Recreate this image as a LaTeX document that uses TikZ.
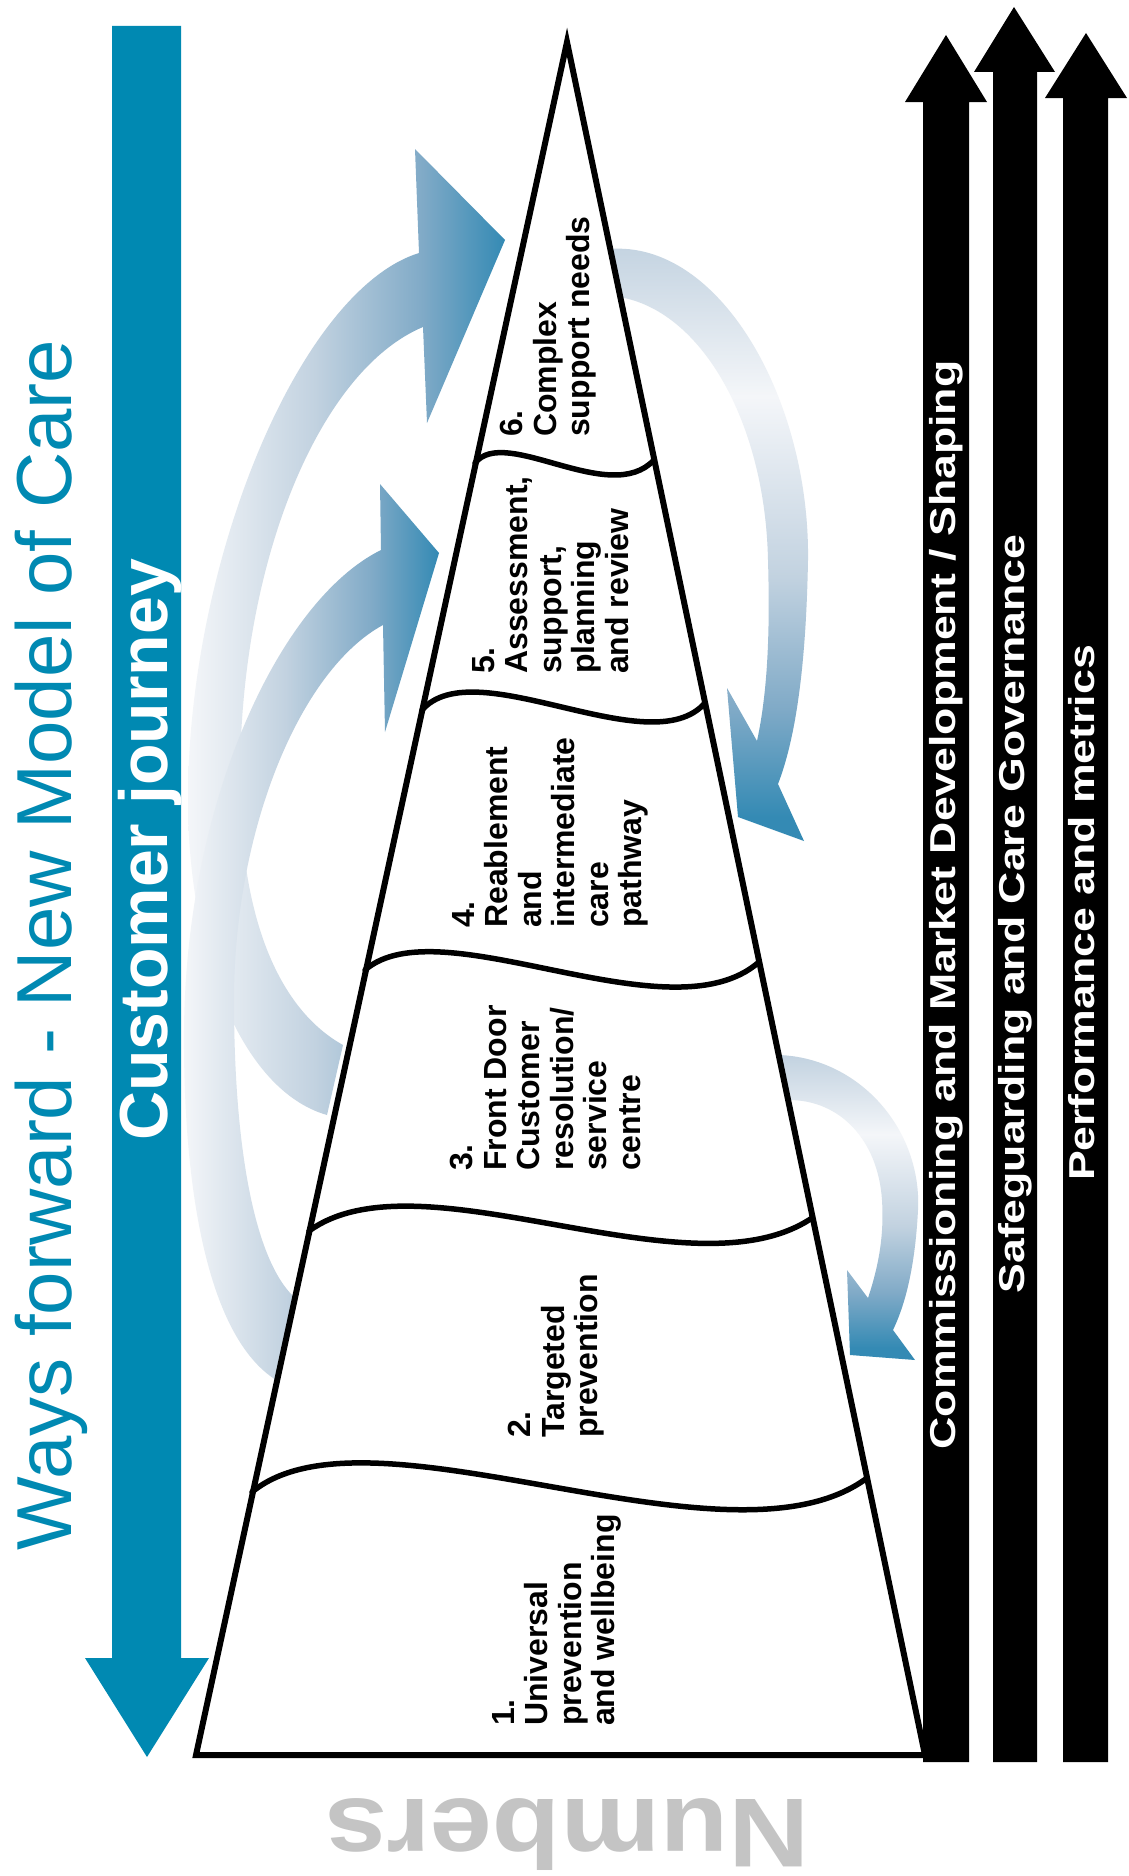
\documentclass[tikz,border=0pt]{standalone}
\usepackage{fontspec}
\setmainfont{Liberation Sans}
\usepackage{graphicx}
\definecolor{custblue}{RGB}{0,137,178}
\definecolor{arcdark}{RGB}{52,138,180}
\definecolor{arcmed}{RGB}{128,170,199}
\definecolor{arclight}{RGB}{194,210,224}
\definecolor{arcpale}{RGB}{244,246,249}
\definecolor{numgray}{RGB}{196,196,196}
\pgfdeclareverticalshading{rightarc}{100bp}{color(0bp)=(arcdark); color(27bp)=(arcdark); color(36bp)=(arcmed); color(47bp)=(arclight); color(62bp)=(arcpale); color(75bp)=(arclight); color(100bp)=(arclight)}
\pgfdeclarehorizontalshading{leftarc}{100bp}{color(0bp)=(arcpale); color(25bp)=(arcpale); color(45bp)=(arclight); color(62bp)=(arcmed); color(75bp)=(arcdark); color(100bp)=(arcdark)}
\tikzset{
  lbl/.style={rotate=90, anchor=north west, align=left, inner sep=0pt, font=\fontsize{32}{33.5}\selectfont\bfseries},
  bartext/.style={rotate=90, anchor=base, inner sep=0pt, text=white, font=\fontsize{36}{42}\selectfont\bfseries},
  divider/.style={line width=5.5pt, line cap=round},
  blackarrow/.style={fill=black},
  leftband/.style={shading=leftarc},
  rightband/.style={shading=rightarc}
}
\begin{document}
\begin{tikzpicture}[x=1pt, y={(0pt,-1pt)}]
\useasboundingbox (0,0) rectangle (1129,1876);
\fill[white] (0,0) rectangle (1129,1876);

% curved gradient arrows (left side)
\shade[leftband] (327,1115) .. controls (240,1090) and (188,950) .. (188,800)
  .. controls (188,560) and (300,290) .. (419,253) -- (415,149) -- (505,240) -- (427,423) -- (423,327)
  .. controls (320,370) and (240,560) .. (240,780) .. controls (240,920) and (280,1010) .. (343,1045) -- cycle;
\shade[leftband] (276,1380) .. controls (205,1335) and (183,1180) .. (184,1030)
  .. controls (186,800) and (280,600) .. (381,550) -- (380,484) -- (439,553) -- (385,732) -- (383,625)
  .. controls (300,670) and (234,830) .. (234,1000) .. controls (234,1150) and (255,1260) .. (294,1297) -- cycle;
% curved gradient arrows (right side)
\shade[rightband] (609,249) .. controls (720,240) and (810,400) .. (808,560)
  .. controls (806,670) and (795,740) .. (778,784) -- (804,841) -- (738,817) -- (727,688) -- (757,741)
  .. controls (768,690) and (770,630) .. (768,560) .. controls (765,420) and (700,310) .. (619,297) -- cycle;
\shade[rightband] (779,1055) .. controls (860,1058) and (922,1130) .. (918,1210)
  .. controls (915,1268) and (905,1305) .. (893,1330) -- (915,1360) -- (850,1355) -- (847,1270) -- (868,1298)
  .. controls (880,1262) and (884,1232) .. (882,1200) .. controls (878,1140) and (840,1100) .. (789,1100) -- cycle;

% blue customer journey arrow
\fill[custblue] (112,26) -- (181,26) -- (181,1658) -- (209,1658) -- (147,1757) -- (85,1658) -- (112,1658) -- cycle;

% pyramid
\draw[line width=6pt, line join=miter, fill=white] (567,42) -- (925,1755) -- (196,1755) -- cycle;
\draw[divider] (475,463) .. controls (505,425) and (610,507) .. (654,460);
\draw[divider] (422,710) .. controls (475,650) and (650,765) .. (705,703);
\draw[divider] (365,970) .. controls (440,905) and (670,1040) .. (759,962);
\draw[divider] (309,1231) .. controls (420,1150) and (690,1300) .. (812,1218);
\draw[divider] (252,1492) .. controls (370,1395) and (730,1580) .. (867,1478);

% level labels
\node[lbl] (l1) at (492,1726) {1.\\Universal\\prevention\\and wellbeing};
\node[lbl] (l2) at (508,1438) {2.\\Targeted\\prevention};
\node[lbl] (l3) at (450,1171) {3.\\Front Door\\Customer\\resolution/\\service\\centre};
\node[lbl] (l4) at (452,928) {4.\\Reablement\\and\\intermediate\\care\\pathway};
\node[lbl] (l5) at (472,674) {5.\\Assessment,\\support,\\planning\\and review};
\node[lbl] (l6) at (500,437) {6.\\Complex\\support needs};

% black arrows
\fill[blackarrow] (923,1762) -- (923,102) -- (905,102) -- (946,35) -- (987,102) -- (969,102) -- (969,1762) -- cycle;
\fill[blackarrow] (993,1762) -- (993,72) -- (974,72) -- (1014,7) -- (1055,72) -- (1037,72) -- (1037,1762) -- cycle;
\fill[blackarrow] (1063,1762) -- (1063,98) -- (1045,98) -- (1086,33) -- (1127,98) -- (1108,98) -- (1108,1762) -- cycle;
\node[bartext] (t1) at (955,905) {\scalebox{1.24}[1]{Commissioning and Market Development / Shaping}};
\node[bartext] (t2) at (1024,914) {\scalebox{1.24}[1]{Safeguarding and Care Governance}};
\node[bartext] (t3) at (1094,913) {\scalebox{1.24}[1]{Performance and metrics}};

% titles
\node[rotate=90, anchor=base, inner sep=0pt, text=custblue, font=\fontsize{78}{90}\selectfont] (title) at (71,945) {Ways forward - New Model of Care};
\node[rotate=90, anchor=base, inner sep=0pt, text=white, font=\fontsize{68}{80}\selectfont\bfseries] (cj) at (167,850) {Customer journey};
\node[rotate=180, anchor=base, inner sep=0pt, text=numgray, font=\fontsize{98}{110}\selectfont\bfseries] (num) at (567,1799) {\scalebox{1.14}[1]{Numbers}};
\end{tikzpicture}
\end{document}
